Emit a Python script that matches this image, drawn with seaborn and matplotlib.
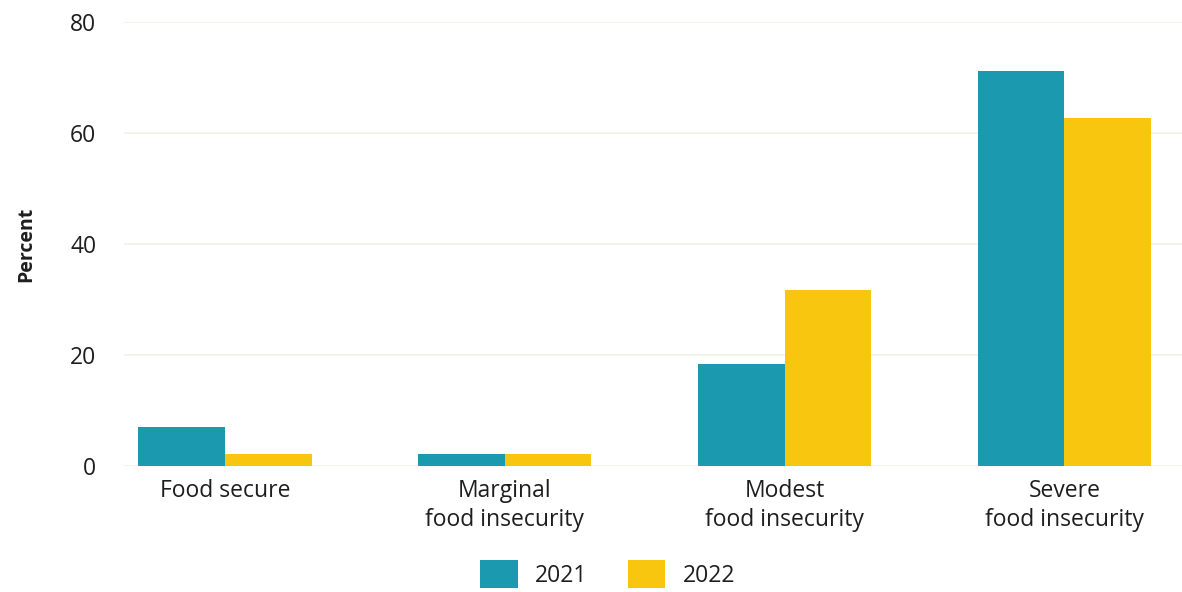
import matplotlib
matplotlib.use("Agg")
import matplotlib.pyplot as plt
import seaborn as sns
import pandas as pd

categories = ["Food secure", "Marginal\nfood insecurity", "Modest\nfood insecurity", "Severe\nfood insecurity"]
values_2021 = [7.0, 2.2, 18.3, 71.2]
values_2022 = [2.2, 2.2, 31.8, 62.7]
years = ["2021", "2022"]
yticks = [0, 20, 40, 60, 80]

df = pd.DataFrame({
    "category": categories * 2,
    "value": values_2021 + values_2022,
    "year": [years[0]] * len(categories) + [years[1]] * len(categories),
})

sns.set_theme(style="white")
plt.rcParams["font.family"] = ["Open Sans", "DejaVu Sans"]

fig = plt.figure(figsize=(11.82, 5.92), dpi=100)
ax = fig.add_axes([0.105, 0.2128, 0.895, 0.7500])

palette = {"2021": "#1B99AF", "2022": "#F9C60F"}
sns.barplot(data=df, x="category", y="value", hue="year", palette=palette,
            order=categories, hue_order=years, width=0.62, saturation=1,
            edgecolor="none", linewidth=0, ax=ax, legend=True)

ax.set_ylim(0, 80)
ax.set_xlim(-0.36, 3.42)
ax.set_yticks(yticks)
ax.yaxis.grid(True, color="#f1f1e6", linewidth=1.2)
ax.set_axisbelow(True)
for s in ax.spines.values():
    s.set_visible(False)
ax.tick_params(axis="y", length=0, pad=20, labelsize=16.5, labelcolor="#1e1e1e")
ax.tick_params(axis="x", length=0, pad=9, labelsize=16.5, labelcolor="#1e1e1e")
for lbl in ax.get_xticklabels():
    lbl.set_linespacing(1.3)
    lbl.set_fontweight(500)
for lbl in ax.get_yticklabels():
    lbl.set_fontweight(500)
ax.set_xlabel("")
ax.set_ylabel("Percent", fontsize=14, fontweight="bold", color="#1e1e1e", labelpad=24)

handles, labels = ax.get_legend_handles_labels()
ax.get_legend().remove()
leg = fig.legend(handles, labels, loc="center", bbox_to_anchor=(0.514, 0.03), ncol=2,
           frameon=False, fontsize=16.5, handlelength=1.65, handleheight=1.5,
           handletextpad=0.75, columnspacing=1.75, labelcolor="#1e1e1e")
for t in leg.get_texts():
    t.set_fontweight(500)

fig.savefig("out.png", dpi=100)
